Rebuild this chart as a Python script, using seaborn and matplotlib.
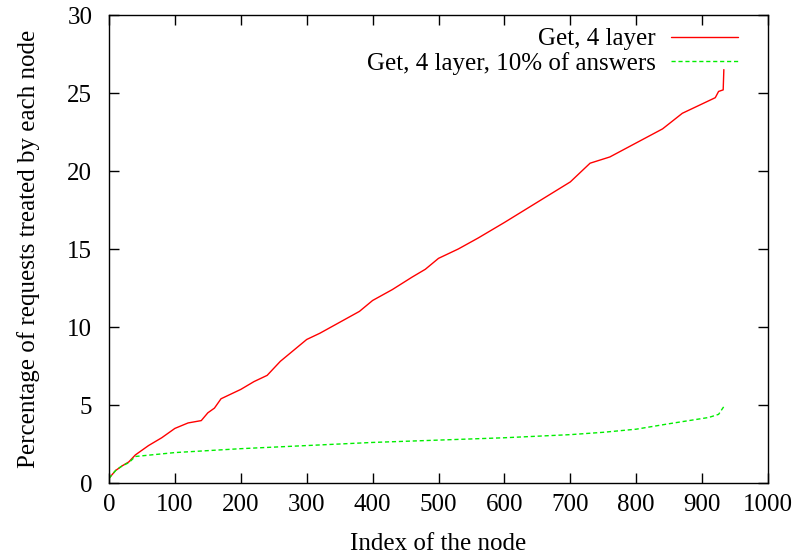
import numpy as np
import pandas as pd
import matplotlib
matplotlib.use("Agg")
import matplotlib.pyplot as plt
import seaborn as sns

# values (node index -> % of requests)
full_x = [0, 10, 20, 30, 40, 50, 60, 80, 100, 120, 140, 150, 160, 170, 200, 220, 240,
          260, 280, 300, 320, 350, 380, 400, 430, 460, 480, 500, 530, 560, 600, 650,
          700, 730, 760, 800, 840, 870, 900, 920, 925, 932, 933]
full_y = [0.3, 0.8, 1.1, 1.35, 1.8, 2.1, 2.4, 2.9, 3.5, 3.85, 4.0, 4.5, 4.8, 5.4, 6.0,
          6.5, 6.9, 7.8, 8.5, 9.2, 9.6, 10.3, 11.0, 11.7, 12.4, 13.2, 13.7, 14.4, 15.0,
          15.7, 16.7, 18.0, 19.3, 20.5, 20.9, 21.8, 22.7, 23.7, 24.3, 24.7, 25.1, 25.2,
          26.5]

tenth_x = [0, 10, 20, 30, 40, 100, 200, 300, 400, 500, 600, 700, 750, 800, 850, 880,
           910, 925, 933]
tenth_y = [0.3, 0.8, 1.1, 1.3, 1.7, 1.95, 2.2, 2.4, 2.6, 2.75, 2.9, 3.1, 3.25, 3.45,
           3.8, 4.0, 4.2, 4.4, 4.9]

labels = ["Get, 4 layer", "Get, 4 layer, 10% of answers"]

FS = 18

sns.set_style("ticks")
plt.rcParams["font.family"] = ["Liberation Serif", "DejaVu Serif"]
plt.rcParams["font.size"] = FS
plt.rcParams["text.color"] = "black"
plt.rcParams["axes.labelcolor"] = "black"

fig = plt.figure(figsize=(7.98, 5.56), dpi=100)
ax = fig.add_axes([109 / 798, 73 / 556, 659 / 798, 468 / 556])

df1 = pd.DataFrame({"x": full_x, "y": full_y})
df2 = pd.DataFrame({"x": tenth_x, "y": tenth_y})
sns.lineplot(data=df1, x="x", y="y", ax=ax, color="#ff0000", lw=1.0, label=labels[0])
sns.lineplot(data=df2, x="x", y="y", ax=ax, color="#00ee00", lw=1.0,
             label=labels[1], dashes=False)
ax.lines[1].set_linestyle((0, (3, 2)))

ax.set_xlim(0, 1000)
ax.set_ylim(0, 30)
ax.set_xticks(np.arange(0, 1001, 100))
ax.set_yticks(np.arange(0, 31, 5))
ax.tick_params(direction="in", length=7, width=1, top=True, right=True,
               labelsize=FS, pad=8, colors="black")
ax.tick_params(axis="y", pad=12)
for s in ax.spines.values():
    s.set_linewidth(1.0)
    s.set_color("black")
ax.set_xlabel("Index of the node", fontsize=FS, labelpad=12)
ax.set_ylabel("Percentage of requests treated by each node", fontsize=FS, labelpad=20)

leg = ax.legend(loc="upper right", bbox_to_anchor=(738 / 798, 1 - 28 / 556),
                bbox_transform=fig.transFigure, borderaxespad=0, borderpad=0,
                markerfirst=False, frameon=False, handlelength=2.7,
                handletextpad=0.6, labelspacing=0.05, fontsize=FS)
for col in leg._legend_handle_box.get_children():
    col.align = "right"

fig.savefig("out.png", dpi=100)
